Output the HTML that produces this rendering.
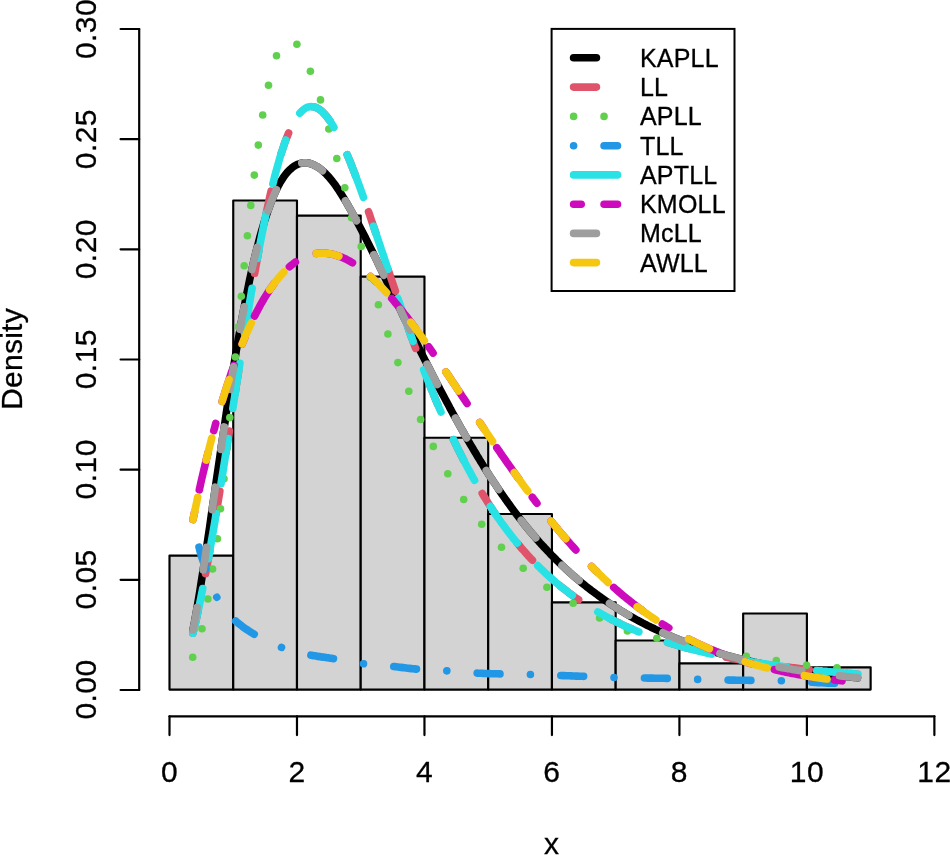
<!DOCTYPE html>
<html><head><meta charset="utf-8"><title>Density</title>
<style>
html,body{margin:0;padding:0;background:#fff;}
body{width:950px;height:855px;overflow:hidden;}
svg{display:block;will-change:transform;}
text{font-family:"Liberation Sans",sans-serif;fill:#000;stroke:#000;stroke-width:0.3px;}
.ax{font-size:30px;letter-spacing:0.45px;}
.lg{font-size:25px;letter-spacing:0.2px;}
</style></head><body>
<svg width="950" height="855" viewBox="0 0 950 855">
<rect x="0" y="0" width="950" height="855" fill="#ffffff"/>

<g fill="#D3D3D3" stroke="#000" stroke-width="2.15" stroke-linejoin="round">
<rect x="169.50" y="555.60" width="63.74" height="134.00"/>
<rect x="233.24" y="200.45" width="63.74" height="489.15"/>
<rect x="296.98" y="215.65" width="63.74" height="473.95"/>
<rect x="360.72" y="276.60" width="63.74" height="413.00"/>
<rect x="424.46" y="437.70" width="63.74" height="251.90"/>
<rect x="488.20" y="514.00" width="63.74" height="175.60"/>
<rect x="551.94" y="602.40" width="63.74" height="87.20"/>
<rect x="615.68" y="640.50" width="63.74" height="49.10"/>
<rect x="679.42" y="663.40" width="63.74" height="26.20"/>
<rect x="743.16" y="613.50" width="63.74" height="76.10"/>
<rect x="806.90" y="667.40" width="63.74" height="22.20"/>
</g>
<g stroke="#000" stroke-width="2.2" fill="none" stroke-linecap="round" stroke-linejoin="round">
<path d="M169.50 716.3 H934.38"/>
<path d="M169.50 716.3 V735.0999999999999"/>
<path d="M296.98 716.3 V735.0999999999999"/>
<path d="M424.46 716.3 V735.0999999999999"/>
<path d="M551.94 716.3 V735.0999999999999"/>
<path d="M679.42 716.3 V735.0999999999999"/>
<path d="M806.90 716.3 V735.0999999999999"/>
<path d="M934.38 716.3 V735.0999999999999"/>
<path d="M139.2 29.01 V690.00"/>
<path d="M139.2 690.00 H120.6"/>
<path d="M139.2 579.84 H120.6"/>
<path d="M139.2 469.67 H120.6"/>
<path d="M139.2 359.50 H120.6"/>
<path d="M139.2 249.34 H120.6"/>
<path d="M139.2 139.17 H120.6"/>
<path d="M139.2 29.01 H120.6"/>
</g>
<g class="ax" text-anchor="middle">
<text x="169.5" y="782">0</text>
<text x="297.0" y="782">2</text>
<text x="424.5" y="782">4</text>
<text x="551.9" y="782">6</text>
<text x="679.4" y="782">8</text>
<text x="806.9" y="782">10</text>
<text x="934.4" y="782">12</text>
<text transform="translate(95.6 689.5) rotate(-90)">0.00</text>
<text transform="translate(95.6 579.4) rotate(-90)">0.05</text>
<text transform="translate(95.6 469.3) rotate(-90)">0.10</text>
<text transform="translate(95.6 359.2) rotate(-90)">0.15</text>
<text transform="translate(95.6 249.2) rotate(-90)">0.20</text>
<text transform="translate(95.6 139.1) rotate(-90)">0.25</text>
<text transform="translate(95.6 29.0) rotate(-90)">0.30</text>
<text x="551.5" y="854" style="letter-spacing:0">x</text>
<text transform="translate(22 359.0) rotate(-90)" style="letter-spacing:0.25px">Density</text>
</g>
<g fill="none" stroke-width="7.61" stroke-linecap="round" stroke-linejoin="round">
<path d="M193.0 630.0 L194.7 621.1 L196.4 611.8 L198.0 602.1 L199.7 592.1 L201.3 581.7 L203.0 571.1 L204.7 560.3 L206.3 549.2 L208.0 538.0 L209.7 526.7 L211.3 515.3 L213.0 503.8 L214.7 492.3 L216.3 480.8 L218.0 469.3 L219.7 457.8 L221.3 446.5 L223.0 435.2 L224.7 424.1 L226.3 413.0 L228.0 402.2 L229.7 391.5 L231.3 380.9 L233.0 370.6 L234.7 360.5 L236.3 350.6 L238.0 340.9 L239.7 331.4 L241.3 322.2 L243.0 313.2 L244.7 304.5 L246.3 296.1 L248.0 287.9 L249.6 280.0 L251.3 272.3 L253.0 264.9 L254.6 257.8 L256.3 250.9 L258.0 244.4 L259.6 238.1 L261.3 232.0 L263.0 226.3 L264.6 220.8 L266.3 215.6 L268.0 210.6 L269.7 205.9 L271.3 201.5 L273.0 197.3 L274.7 193.4 L276.4 189.7 L278.1 186.3 L279.8 183.1 L281.6 180.2 L283.3 177.5 L285.0 175.1 L286.8 172.9 L288.5 171.0 L290.3 169.3 L292.0 167.8 L293.7 166.5 L295.3 165.5 L297.0 164.6 L298.6 164.0 L300.1 163.5 L301.7 163.1 L303.2 162.9 L304.7 162.8 L306.1 162.9 L307.6 163.0 L309.2 163.3 L310.7 163.7 L312.3 164.3 L313.9 165.0 L315.5 165.8 L317.2 166.7 L318.9 167.8 L320.6 169.0 L322.2 170.4 L323.9 171.9 L325.6 173.5 L327.3 175.3 L329.0 177.1 L330.6 179.1 L332.3 181.2 L333.9 183.3 L335.6 185.6 L337.2 188.0 L338.9 190.4 L340.5 192.9 L342.1 195.5 L343.8 198.2 L345.4 200.9 L347.1 203.7 L348.7 206.6 L350.4 209.5 L352.0 212.5 L353.7 215.5 L355.4 218.5 L357.0 221.6 L358.7 224.8 L360.4 228.0 L362.1 231.2 L363.8 234.5 L365.5 237.8 L367.1 241.1 L368.8 244.5 L370.5 247.9 L372.2 251.3 L373.9 254.7 L375.6 258.2 L377.3 261.6 L378.9 265.1 L380.6 268.6 L382.3 272.1 L384.0 275.7 L385.7 279.2 L387.4 282.7 L389.1 286.3 L390.8 289.9 L392.5 293.4 L394.2 297.0 L395.9 300.5 L397.6 304.1 L399.3 307.7 L401.0 311.2 L402.7 314.8 L404.4 318.3 L406.1 321.8 L407.8 325.4 L409.5 328.9 L411.3 332.4 L413.0 335.9 L414.7 339.4 L416.4 342.9 L418.1 346.3 L419.8 349.8 L421.5 353.2 L423.2 356.6 L424.9 360.0 L426.7 363.4 L428.4 366.8 L430.1 370.1 L431.8 373.5 L433.5 376.8 L435.2 380.1 L436.9 383.4 L438.6 386.6 L440.3 389.9 L442.0 393.1 L443.7 396.3 L445.4 399.5 L447.1 402.6 L448.8 405.8 L450.4 408.9 L452.1 412.0 L453.8 415.1 L455.5 418.1 L457.2 421.1 L458.8 424.2 L460.5 427.1 L462.2 430.1 L463.9 433.0 L465.5 436.0 L467.2 438.8 L468.8 441.7 L470.5 444.6 L472.2 447.4 L473.8 450.2 L475.5 452.9 L477.1 455.7 L478.8 458.4 L480.4 461.1 L482.1 463.8 L483.7 466.4 L485.4 469.1 L487.0 471.7 L488.7 474.3 L490.3 476.8 L492.0 479.3 L493.6 481.9 L495.3 484.3 L496.9 486.8 L498.5 489.2 L500.2 491.6 L501.8 494.0 L503.5 496.4 L505.1 498.7 L506.8 501.0 L508.4 503.3 L510.1 505.6 L511.7 507.9 L513.3 510.1 L515.0 512.3 L516.6 514.4 L518.3 516.6 L519.9 518.7 L521.6 520.8 L523.2 522.9 L524.9 525.0 L526.5 527.0 L528.2 529.0 L529.8 531.0 L531.5 533.0 L533.1 534.9 L534.8 536.8 L536.4 538.7 L538.1 540.6 L539.7 542.5 L541.4 544.3 L543.1 546.1 L544.7 547.9 L546.4 549.7 L548.0 551.4 L549.7 553.1 L551.3 554.9 L553.0 556.5 L554.7 558.2 L556.3 559.9 L558.0 561.5 L559.6 563.1 L561.3 564.7 L563.0 566.3 L564.6 567.8 L566.3 569.4 L568.0 570.9 L569.6 572.4 L571.3 573.9 L572.9 575.3 L574.6 576.8 L576.3 578.2 L577.9 579.6 L579.6 581.0 L581.2 582.4 L582.9 583.7 L584.6 585.1 L586.2 586.4 L587.9 587.7 L589.6 589.0 L591.2 590.3 L592.9 591.5 L594.6 592.8 L596.2 594.0 L597.9 595.2 L599.5 596.4 L601.2 597.6 L602.9 598.8 L604.5 600.0 L606.2 601.1 L607.9 602.2 L609.5 603.4 L611.2 604.5 L612.8 605.5 L614.5 606.6 L616.2 607.7 L617.8 608.7 L619.5 609.8 L621.1 610.8 L622.8 611.8 L624.5 612.8 L626.1 613.8 L627.8 614.8 L629.5 615.7 L631.1 616.7 L632.8 617.6 L634.4 618.5 L636.1 619.5 L637.8 620.4 L639.4 621.3 L641.1 622.1 L642.7 623.0 L644.4 623.9 L646.1 624.7 L647.7 625.6 L649.4 626.4 L651.0 627.2 L652.7 628.0 L654.4 628.8 L656.0 629.6 L657.7 630.4 L659.3 631.2 L661.0 631.9 L662.7 632.7 L664.3 633.4 L666.0 634.2 L667.6 634.9 L669.3 635.6 L671.0 636.3 L672.6 637.0 L674.3 637.7 L675.9 638.4 L677.6 639.0 L679.3 639.7 L680.9 640.4 L682.6 641.0 L684.3 641.6 L685.9 642.3 L687.6 642.9 L689.2 643.5 L690.9 644.1 L692.6 644.7 L694.2 645.3 L695.9 645.9 L697.5 646.5 L699.2 647.0 L700.9 647.6 L702.5 648.1 L704.2 648.7 L705.9 649.2 L707.5 649.8 L709.2 650.3 L710.9 650.8 L712.5 651.3 L714.2 651.8 L715.8 652.3 L717.5 652.8 L719.2 653.3 L720.8 653.8 L722.5 654.3 L724.2 654.7 L725.8 655.2 L727.5 655.7 L729.2 656.1 L730.8 656.5 L732.5 657.0 L734.2 657.4 L735.8 657.8 L737.5 658.3 L739.1 658.7 L740.8 659.1 L742.5 659.5 L744.1 659.9 L745.8 660.3 L747.5 660.7 L749.1 661.1 L750.8 661.4 L752.5 661.8 L754.1 662.2 L755.8 662.5 L757.5 662.9 L759.1 663.2 L760.8 663.6 L762.5 663.9 L764.1 664.3 L765.8 664.6 L767.5 664.9 L769.1 665.3 L770.8 665.6 L772.5 665.9 L774.1 666.2 L775.8 666.5 L777.5 666.8 L779.1 667.1 L780.8 667.4 L782.5 667.7 L784.1 668.0 L785.8 668.3 L787.5 668.6 L789.1 668.8 L790.8 669.1 L792.5 669.4 L794.1 669.7 L795.8 669.9 L797.5 670.2 L799.1 670.4 L800.8 670.7 L802.5 670.9 L804.1 671.2 L805.8 671.4 L807.5 671.7 L809.1 671.9 L810.8 672.1 L812.5 672.4 L814.1 672.6 L815.8 672.8 L817.5 673.1 L819.1 673.3 L820.8 673.5 L822.5 673.7 L824.1 673.9 L825.8 674.1 L827.5 674.3 L829.1 674.5 L830.8 674.8 L832.5 675.0 L834.1 675.2 L835.8 675.3 L837.5 675.5 L839.1 675.7 L840.8 675.9 L842.5 676.1 L844.1 676.3 L845.8 676.5 L847.5 676.7 L849.1 676.8 L850.8 677.0 L852.5 677.2 L854.1 677.4 L855.8 677.5 L857.5 677.7" stroke="#000000"/>
<path d="M193.0 633.2 L194.7 626.2 L196.4 619.0 L198.0 611.5 L199.7 603.6 L201.3 595.6 L203.0 587.2 L204.7 578.6 L206.3 569.8 L208.0 560.7 L209.7 551.4 L211.3 541.9 L213.0 532.3 L214.7 522.5 L216.3 512.5 L218.0 502.4 L219.7 492.1 L221.3 481.7 L223.0 471.3 L224.7 460.7 L226.3 450.1 L228.0 439.4 L229.7 428.7 L231.3 418.0 L233.0 407.2 L234.7 396.5 L236.3 385.8 L238.0 375.1 L239.7 364.4 L241.3 353.9 L243.0 343.4 L244.7 333.0 L246.3 322.7 L248.0 312.6 L249.6 302.6 L251.3 292.7 L253.0 283.0 L254.6 273.5 L256.3 264.2 L258.0 255.0 L259.6 246.1 L261.3 237.4 L263.0 228.9 L264.6 220.7 L266.3 212.7 L268.0 205.0 L269.6 197.5 L271.3 190.3 L273.0 183.4 L274.6 176.8 L276.3 170.5 L278.0 164.4 L279.6 158.7 L281.3 153.2 L283.0 148.1 L284.6 143.2 L286.3 138.7 L288.0 134.5 L289.6 130.5 L291.3 126.9 L293.0 123.6 L294.6 120.6 L296.3 117.9 L297.9 115.5 L299.6 113.4 L301.3 111.6 L302.9 110.0 L304.6 108.8 L306.3 107.8 L307.9 107.1 L309.6 106.7 L311.3 106.6 L312.9 106.7 L314.6 107.0 L316.3 107.6 L317.9 108.5 L319.6 109.5 L321.3 110.8 L322.9 112.3 L324.6 114.1 L326.3 116.0 L327.9 118.1 L329.6 120.4 L331.3 122.9 L332.9 125.6 L334.6 128.5 L336.3 131.5 L337.9 134.6 L339.6 137.9 L341.3 141.4 L342.9 144.9 L344.6 148.6 L346.3 152.5 L347.9 156.4 L349.6 160.4 L351.2 164.5 L352.9 168.8 L354.6 173.1 L356.2 177.5 L357.9 181.9 L359.6 186.5 L361.2 191.0 L362.9 195.7 L364.6 200.4 L366.2 205.1 L367.9 209.9 L369.6 214.8 L371.2 219.6 L372.9 224.5 L374.6 229.4 L376.2 234.3 L377.9 239.3 L379.6 244.2 L381.2 249.2 L382.9 254.1 L384.6 259.1 L386.2 264.1 L387.9 269.0 L389.6 274.0 L391.2 278.9 L392.9 283.8 L394.6 288.7 L396.2 293.6 L397.9 298.5 L399.5 303.3 L401.2 308.1 L402.9 312.9 L404.5 317.7 L406.2 322.4 L407.9 327.1 L409.5 331.7 L411.2 336.4 L412.9 341.0 L414.5 345.5 L416.2 350.0 L417.9 354.5 L419.5 358.9 L421.2 363.3 L422.9 367.7 L424.5 372.0 L426.2 376.2 L427.9 380.5 L429.5 384.6 L431.2 388.8 L432.9 392.9 L434.5 396.9 L436.2 400.9 L437.9 404.9 L439.5 408.8 L441.2 412.6 L442.9 416.4 L444.5 420.2 L446.2 423.9 L447.8 427.6 L449.5 431.2 L451.2 434.8 L452.8 438.3 L454.5 441.8 L456.2 445.3 L457.8 448.7 L459.5 452.0 L461.2 455.3 L462.8 458.6 L464.5 461.8 L466.2 465.0 L467.8 468.1 L469.5 471.2 L471.2 474.3 L472.8 477.3 L474.5 480.2 L476.2 483.2 L477.8 486.0 L479.5 488.9 L481.2 491.7 L482.8 494.4 L484.5 497.1 L486.2 499.8 L487.8 502.5 L489.5 505.1 L491.2 507.6 L492.8 510.1 L494.5 512.6 L496.1 515.1 L497.8 517.5 L499.5 519.9 L501.1 522.2 L502.8 524.5 L504.5 526.8 L506.1 529.0 L507.8 531.2 L509.5 533.4 L511.1 535.5 L512.8 537.7 L514.5 539.7 L516.1 541.8 L517.8 543.8 L519.5 545.8 L521.1 547.7 L522.8 549.7 L524.5 551.5 L526.1 553.4 L527.8 555.3 L529.5 557.1 L531.1 558.8 L532.8 560.6 L534.5 562.3 L536.1 564.0 L537.8 565.7 L539.5 567.4 L541.1 569.0 L542.8 570.6 L544.5 572.2 L546.1 573.7 L547.8 575.3 L549.4 576.8 L551.1 578.2 L552.8 579.7 L554.4 581.1 L556.1 582.6 L557.8 584.0 L559.4 585.3 L561.1 586.7 L562.8 588.0 L564.4 589.3 L566.1 590.6 L567.8 591.9 L569.4 593.2 L571.1 594.4 L572.8 595.6 L574.4 596.8 L576.1 598.0 L577.8 599.2 L579.4 600.3 L581.1 601.5 L582.8 602.6 L584.4 603.7 L586.1 604.7 L587.8 605.8 L589.4 606.9 L591.1 607.9 L592.8 608.9 L594.4 609.9 L596.1 610.9 L597.7 611.9 L599.4 612.8 L601.1 613.8 L602.7 614.7 L604.4 615.6 L606.1 616.5 L607.7 617.4 L609.4 618.3 L611.1 619.2 L612.7 620.0 L614.4 620.9 L616.1 621.7 L617.7 622.5 L619.4 623.3 L621.1 624.1 L622.7 624.9 L624.4 625.7 L626.1 626.4 L627.7 627.2 L629.4 627.9 L631.1 628.6 L632.7 629.4 L634.4 630.1 L636.1 630.8 L637.7 631.5 L639.4 632.1 L641.1 632.8 L642.7 633.5 L644.4 634.1 L646.0 634.8 L647.7 635.4 L649.4 636.0 L651.0 636.6 L652.7 637.2 L654.4 637.8 L656.0 638.4 L657.7 639.0 L659.4 639.6 L661.0 640.1 L662.7 640.7 L664.4 641.2 L666.0 641.8 L667.7 642.3 L669.4 642.9 L671.0 643.4 L672.7 643.9 L674.4 644.4 L676.0 644.9 L677.7 645.4 L679.4 645.9 L681.0 646.4 L682.7 646.8 L684.4 647.3 L686.0 647.8 L687.7 648.2 L689.4 648.7 L691.0 649.1 L692.7 649.5 L694.3 650.0 L696.0 650.4 L697.7 650.8 L699.3 651.2 L701.0 651.6 L702.7 652.0 L704.3 652.4 L706.0 652.8 L707.7 653.2 L709.3 653.6 L711.0 654.0 L712.7 654.4 L714.3 654.7 L716.0 655.1 L717.7 655.4 L719.3 655.8 L721.0 656.1 L722.7 656.5 L724.3 656.8 L726.0 657.2 L727.7 657.5 L729.3 657.8 L731.0 658.2 L732.7 658.5 L734.3 658.8 L736.0 659.1 L737.7 659.4 L739.3 659.7 L741.0 660.0 L742.7 660.3 L744.3 660.6 L746.0 660.9 L747.6 661.2 L749.3 661.5 L751.0 661.7 L752.6 662.0 L754.3 662.3 L756.0 662.6 L757.6 662.8 L759.3 663.1 L761.0 663.3 L762.6 663.6 L764.3 663.9 L766.0 664.1 L767.6 664.4 L769.3 664.6 L771.0 664.8 L772.6 665.1 L774.3 665.3 L776.0 665.5 L777.6 665.8 L779.3 666.0 L781.0 666.2 L782.6 666.4 L784.3 666.7 L786.0 666.9 L787.6 667.1 L789.3 667.3 L791.0 667.5 L792.6 667.7 L794.3 667.9 L795.9 668.1 L797.6 668.3 L799.3 668.5 L800.9 668.7 L802.6 668.9 L804.3 669.1 L805.9 669.3 L807.6 669.5 L809.3 669.7 L810.9 669.8 L812.6 670.0 L814.3 670.2 L815.9 670.4 L817.6 670.6 L819.3 670.7 L820.9 670.9 L822.6 671.1 L824.3 671.2 L825.9 671.4 L827.6 671.6 L829.3 671.7 L830.9 671.9 L832.6 672.0 L834.3 672.2 L835.9 672.3 L837.6 672.5 L839.3 672.6 L840.9 672.8 L842.6 672.9 L844.2 673.1 L845.9 673.2 L847.6 673.4 L849.2 673.5 L850.9 673.6 L852.6 673.8 L854.2 673.9 L855.9 674.1 L857.6 674.2" stroke="#DF536B" stroke-dasharray="22.830000000000002 38.050000000000004"/>
</g><g fill="#61D04F"><circle cx="192.7" cy="657.2" r="3.8"/><circle cx="202.0" cy="628.7" r="3.8"/><circle cx="207.9" cy="599.0" r="3.8"/><circle cx="212.6" cy="569.0" r="3.8"/><circle cx="217.4" cy="538.7" r="3.8"/><circle cx="220.5" cy="508.7" r="3.8"/><circle cx="224.0" cy="478.7" r="3.8"/><circle cx="227.0" cy="448.5" r="3.8"/><circle cx="229.8" cy="417.6" r="3.8"/><circle cx="232.5" cy="387.3" r="3.8"/><circle cx="235.4" cy="357.0" r="3.8"/><circle cx="238.3" cy="326.8" r="3.8"/><circle cx="241.3" cy="296.3" r="3.8"/><circle cx="244.2" cy="265.8" r="3.8"/><circle cx="247.4" cy="235.7" r="3.8"/><circle cx="250.8" cy="205.4" r="3.8"/><circle cx="254.3" cy="175.1" r="3.8"/><circle cx="258.3" cy="145.1" r="3.8"/><circle cx="262.7" cy="115.0" r="3.8"/><circle cx="268.5" cy="85.3" r="3.8"/><circle cx="276.5" cy="55.8" r="3.8"/><circle cx="296.9" cy="44.2" r="3.8"/><circle cx="310.4" cy="71.2" r="3.8"/><circle cx="320.5" cy="99.9" r="3.8"/><circle cx="328.8" cy="129.0" r="3.8"/><circle cx="336.8" cy="158.5" r="3.8"/><circle cx="344.8" cy="187.8" r="3.8"/><circle cx="351.6" cy="217.7" r="3.8"/><circle cx="361.2" cy="246.5" r="3.8"/><circle cx="370.2" cy="277.2" r="3.8"/><circle cx="378.4" cy="304.8" r="3.8"/><circle cx="387.9" cy="334.0" r="3.8"/><circle cx="397.9" cy="362.6" r="3.8"/><circle cx="408.8" cy="391.3" r="3.8"/><circle cx="420.6" cy="419.5" r="3.8"/><circle cx="433.3" cy="446.4" r="3.8"/><circle cx="447.8" cy="473.8" r="3.8"/><circle cx="463.7" cy="499.5" r="3.8"/><circle cx="481.7" cy="524.3" r="3.8"/><circle cx="501.5" cy="547.3" r="3.8"/><circle cx="523.2" cy="568.3" r="3.8"/><circle cx="546.9" cy="587.3" r="3.8"/><circle cx="573.1" cy="603.3" r="3.8"/><circle cx="599.6" cy="618.0" r="3.8"/><circle cx="627.4" cy="631.0" r="3.8"/><circle cx="656.8" cy="638.2" r="3.8"/><circle cx="686.0" cy="646.0" r="3.8"/><circle cx="716.0" cy="651.5" r="3.8"/><circle cx="746.3" cy="656.4" r="3.8"/><circle cx="776.3" cy="660.6" r="3.8"/><circle cx="806.6" cy="665.3" r="3.8"/><circle cx="837.0" cy="667.7" r="3.8"/></g><g fill="none" stroke-width="7.61" stroke-linecap="round" stroke-linejoin="round">
<path d="M193.0 519.0 L194.7 527.8 L196.3 535.8 L198.0 543.0 L199.7 549.7 L201.3 555.8 L203.0 560.9 L204.7 565.2 L206.3 569.6 L208.0 574.3 L209.7 579.2 L211.3 584.0 L213.0 588.6 L214.7 592.7 L216.3 596.3 L218.0 599.4 L219.7 602.2 L221.3 604.7 L223.0 607.1 L224.6 609.3 L226.3 611.3 L228.0 613.2 L229.6 615.1 L231.3 616.8 L233.0 618.4 L234.6 620.0 L236.3 621.5 L238.0 623.0 L239.6 624.3 L241.3 625.6 L243.0 626.9 L244.6 628.1 L246.3 629.2 L248.0 630.3 L249.6 631.4 L251.3 632.5 L253.0 633.5 L254.6 634.5 L256.3 635.5 L258.0 636.5 L259.6 637.4 L261.3 638.4 L263.0 639.3 L264.6 640.1 L266.3 641.0 L268.0 641.8 L269.6 642.6 L271.3 643.4 L273.0 644.1 L274.6 644.8 L276.3 645.5 L277.9 646.1 L279.6 646.8 L281.3 647.4 L282.9 647.9 L284.6 648.5 L286.3 649.0 L287.9 649.5 L289.6 650.0 L291.3 650.5 L292.9 651.0 L294.6 651.5 L296.3 651.9 L297.9 652.3 L299.6 652.7 L301.3 653.1 L302.9 653.5 L304.6 653.9 L306.3 654.2 L307.9 654.6 L309.6 654.9 L311.3 655.2 L312.9 655.6 L314.6 655.8 L316.3 656.1 L317.9 656.4 L319.6 656.6 L321.3 656.9 L322.9 657.1 L324.6 657.3 L326.3 657.6 L327.9 657.8 L329.6 658.1 L331.3 658.3 L332.9 658.6 L334.6 658.8 L336.2 659.1 L337.9 659.4 L339.6 659.7 L341.2 660.1 L342.9 660.4 L344.6 660.7 L346.2 661.0 L347.9 661.3 L349.6 661.6 L351.2 661.9 L352.9 662.2 L354.6 662.5 L356.2 662.8 L357.9 663.0 L359.6 663.3 L361.2 663.5 L362.9 663.7 L364.6 663.9 L366.2 664.1 L367.9 664.3 L369.6 664.4 L371.2 664.6 L372.9 664.8 L374.6 664.9 L376.2 665.0 L377.9 665.2 L379.6 665.3 L381.2 665.4 L382.9 665.6 L384.6 665.7 L386.2 665.9 L387.9 666.0 L389.5 666.2 L391.2 666.3 L392.9 666.5 L394.5 666.6 L396.2 666.8 L397.9 667.0 L399.5 667.2 L401.2 667.4 L402.9 667.6 L404.5 667.8 L406.2 668.0 L407.9 668.2 L409.5 668.4 L411.2 668.6 L412.9 668.8 L414.5 668.9 L416.2 669.1 L417.9 669.2 L419.5 669.3 L421.2 669.4 L422.9 669.5 L424.5 669.6 L426.2 669.7 L427.9 669.8 L429.5 669.9 L431.2 670.0 L432.9 670.0 L434.5 670.1 L436.2 670.2 L437.9 670.3 L439.5 670.4 L441.2 670.5 L442.8 670.6 L444.5 670.7 L446.2 670.8 L447.8 670.9 L449.5 671.0 L451.2 671.1 L452.8 671.2 L454.5 671.4 L456.2 671.5 L457.8 671.6 L459.5 671.8 L461.2 671.9 L462.8 672.1 L464.5 672.2 L466.2 672.3 L467.8 672.5 L469.5 672.6 L471.2 672.7 L472.8 672.8 L474.5 673.0 L476.2 673.1 L477.8 673.2 L479.5 673.3 L481.2 673.3 L482.8 673.4 L484.5 673.5 L486.2 673.5 L487.8 673.6 L489.5 673.6 L491.2 673.7 L492.8 673.7 L494.5 673.8 L496.2 673.8 L497.8 673.8 L499.5 673.9 L501.1 673.9 L502.8 673.9 L504.5 674.0 L506.1 674.0 L507.8 674.0 L509.5 674.1 L511.1 674.1 L512.8 674.1 L514.5 674.1 L516.1 674.2 L517.8 674.2 L519.5 674.2 L521.1 674.3 L522.8 674.3 L524.5 674.3 L526.1 674.4 L527.8 674.4 L529.5 674.5 L531.1 674.5 L532.8 674.5 L534.5 674.6 L536.1 674.6 L537.8 674.7 L539.5 674.7 L541.1 674.8 L542.8 674.9 L544.5 674.9 L546.1 675.0 L547.8 675.0 L549.5 675.1 L551.1 675.1 L552.8 675.2 L554.4 675.3 L556.1 675.3 L557.8 675.4 L559.4 675.5 L561.1 675.5 L562.8 675.6 L564.4 675.6 L566.1 675.7 L567.8 675.8 L569.4 675.8 L571.1 675.9 L572.8 676.0 L574.4 676.0 L576.1 676.1 L577.8 676.1 L579.4 676.2 L581.1 676.3 L582.8 676.3 L584.4 676.4 L586.1 676.4 L587.8 676.5 L589.4 676.6 L591.1 676.6 L592.8 676.7 L594.4 676.8 L596.1 676.8 L597.8 676.9 L599.4 677.0 L601.1 677.1 L602.8 677.1 L604.4 677.2 L606.1 677.2 L607.8 677.3 L609.4 677.4 L611.1 677.4 L612.7 677.5 L614.4 677.5 L616.1 677.6 L617.7 677.6 L619.4 677.6 L621.1 677.7 L622.7 677.7 L624.4 677.7 L626.1 677.8 L627.7 677.8 L629.4 677.8 L631.1 677.8 L632.7 677.9 L634.4 677.9 L636.1 677.9 L637.7 677.9 L639.4 677.9 L641.1 678.0 L642.7 678.0 L644.4 678.0 L646.1 678.0 L647.7 678.1 L649.4 678.1 L651.1 678.1 L652.7 678.1 L654.4 678.2 L656.1 678.2 L657.7 678.2 L659.4 678.2 L661.1 678.3 L662.7 678.3 L664.4 678.3 L666.0 678.4 L667.7 678.4 L669.4 678.4 L671.0 678.5 L672.7 678.5 L674.4 678.5 L676.0 678.6 L677.7 678.7 L679.4 678.7 L681.0 678.8 L682.7 678.9 L684.4 678.9 L686.0 679.0 L687.7 679.1 L689.4 679.1 L691.0 679.2 L692.7 679.3 L694.4 679.3 L696.0 679.4 L697.7 679.4 L699.4 679.4 L701.0 679.5 L702.7 679.5 L704.4 679.6 L706.0 679.6 L707.7 679.6 L709.4 679.7 L711.0 679.7 L712.7 679.7 L714.4 679.8 L716.0 679.8 L717.7 679.8 L719.3 679.9 L721.0 679.9 L722.7 679.9 L724.3 680.0 L726.0 680.0 L727.7 680.0 L729.3 680.1 L731.0 680.1 L732.7 680.1 L734.3 680.1 L736.0 680.2 L737.7 680.2 L739.3 680.2 L741.0 680.2 L742.7 680.3 L744.3 680.3 L746.0 680.3 L747.7 680.3 L749.3 680.4 L751.0 680.4 L752.7 680.4 L754.3 680.4 L756.0 680.5 L757.7 680.5 L759.3 680.5 L761.0 680.5 L762.7 680.5 L764.3 680.6 L766.0 680.6 L767.7 680.6 L769.3 680.6 L771.0 680.6 L772.7 680.7 L774.3 680.7 L776.0 680.7 L777.6 680.7 L779.3 680.8 L781.0 680.8 L782.6 680.8 L784.3 680.9 L786.0 680.9 L787.6 681.0 L789.3 681.0 L791.0 681.1 L792.6 681.2 L794.3 681.3 L796.0 681.4 L797.6 681.4 L799.3 681.5 L801.0 681.6 L802.6 681.7 L804.3 681.8 L806.0 681.9 L807.6 682.0 L809.3 682.1 L811.0 682.2 L812.6 682.3 L814.3 682.4 L816.0 682.5 L817.6 682.6 L819.3 682.7 L821.0 682.8 L822.6 682.8 L824.3 682.9 L826.0 683.0 L827.6 683.1 L829.3 683.1 L830.9 683.2 L832.6 683.3 L834.3 683.3 L835.9 683.4 L837.6 683.5 L839.3 683.5 L840.9 683.6 L842.6 683.6 L844.3 683.7 L845.9 683.7 L847.6 683.7 L849.3 683.8 L850.9 683.8 L852.6 683.9 L854.3 683.9 L855.9 684.0 L857.6 684.0" stroke="#2297E6" stroke-dasharray="0.01 30.43 22.830000000000002 30.44" stroke-dashoffset="1.7"/>
<path d="M193.0 633.2 L194.7 626.2 L196.4 619.0 L198.0 611.5 L199.7 603.6 L201.3 595.6 L203.0 587.2 L204.7 578.6 L206.3 569.8 L208.0 560.7 L209.7 551.4 L211.3 541.9 L213.0 532.3 L214.7 522.5 L216.3 512.5 L218.0 502.4 L219.7 492.1 L221.3 481.7 L223.0 471.3 L224.7 460.7 L226.3 450.1 L228.0 439.4 L229.7 428.7 L231.3 418.0 L233.0 407.2 L234.7 396.5 L236.3 385.8 L238.0 375.1 L239.7 364.4 L241.3 353.9 L243.0 343.4 L244.7 333.0 L246.3 322.7 L248.0 312.6 L249.6 302.6 L251.3 292.7 L253.0 283.0 L254.6 273.5 L256.3 264.2 L258.0 255.0 L259.6 246.1 L261.3 237.4 L263.0 228.9 L264.6 220.7 L266.3 212.7 L268.0 205.0 L269.6 197.5 L271.3 190.3 L273.0 183.4 L274.6 176.8 L276.3 170.5 L278.0 164.4 L279.6 158.7 L281.3 153.2 L283.0 148.1 L284.6 143.2 L286.3 138.7 L288.0 134.5 L289.6 130.5 L291.3 126.9 L293.0 123.6 L294.6 120.6 L296.3 117.9 L297.9 115.5 L299.6 113.4 L301.3 111.6 L302.9 110.0 L304.6 108.8 L306.3 107.8 L307.9 107.1 L309.6 106.7 L311.3 106.6 L312.9 106.7 L314.6 107.0 L316.3 107.6 L317.9 108.5 L319.6 109.5 L321.3 110.8 L322.9 112.3 L324.6 114.1 L326.3 116.0 L327.9 118.1 L329.6 120.4 L331.3 122.9 L332.9 125.6 L334.6 128.5 L336.3 131.5 L337.9 134.6 L339.6 137.9 L341.3 141.4 L342.9 144.9 L344.6 148.6 L346.3 152.5 L347.9 156.4 L349.6 160.4 L351.2 164.5 L352.9 168.8 L354.6 173.1 L356.2 177.5 L357.9 181.9 L359.6 186.5 L361.2 191.0 L362.9 195.7 L364.6 200.4 L366.2 205.1 L367.9 209.9 L369.6 214.8 L371.2 219.6 L372.9 224.5 L374.6 229.4 L376.2 234.3 L377.9 239.3 L379.6 244.2 L381.2 249.2 L382.9 254.1 L384.6 259.1 L386.2 264.1 L387.9 269.0 L389.6 274.0 L391.2 278.9 L392.9 283.8 L394.6 288.7 L396.2 293.6 L397.9 298.5 L399.5 303.3 L401.2 308.1 L402.9 312.9 L404.5 317.7 L406.2 322.4 L407.9 327.1 L409.5 331.7 L411.2 336.4 L412.9 341.0 L414.5 345.5 L416.2 350.0 L417.9 354.5 L419.5 358.9 L421.2 363.3 L422.9 367.7 L424.5 372.0 L426.2 376.2 L427.9 380.5 L429.5 384.6 L431.2 388.8 L432.9 392.9 L434.5 396.9 L436.2 400.9 L437.9 404.9 L439.5 408.8 L441.2 412.6 L442.9 416.4 L444.5 420.2 L446.2 423.9 L447.8 427.6 L449.5 431.2 L451.2 434.8 L452.8 438.3 L454.5 441.8 L456.2 445.3 L457.8 448.7 L459.5 452.0 L461.2 455.3 L462.8 458.6 L464.5 461.8 L466.2 465.0 L467.8 468.1 L469.5 471.2 L471.2 474.3 L472.8 477.3 L474.5 480.2 L476.2 483.2 L477.8 486.0 L479.5 488.9 L481.2 491.7 L482.8 494.4 L484.5 497.1 L486.2 499.8 L487.8 502.5 L489.5 505.1 L491.2 507.6 L492.8 510.1 L494.5 512.6 L496.1 515.1 L497.8 517.5 L499.5 519.9 L501.1 522.2 L502.8 524.5 L504.5 526.8 L506.1 529.0 L507.8 531.2 L509.5 533.4 L511.1 535.5 L512.8 537.7 L514.5 539.7 L516.1 541.8 L517.8 543.8 L519.5 545.8 L521.1 547.7 L522.8 549.7 L524.5 551.5 L526.1 553.4 L527.8 555.3 L529.5 557.1 L531.1 558.8 L532.8 560.6 L534.5 562.3 L536.1 564.0 L537.8 565.7 L539.5 567.4 L541.1 569.0 L542.8 570.6 L544.5 572.2 L546.1 573.7 L547.8 575.3 L549.4 576.8 L551.1 578.2 L552.8 579.7 L554.4 581.1 L556.1 582.6 L557.8 584.0 L559.4 585.3 L561.1 586.7 L562.8 588.0 L564.4 589.3 L566.1 590.6 L567.8 591.9 L569.4 593.2 L571.1 594.4 L572.8 595.6 L574.4 596.8 L576.1 598.0 L577.8 599.2 L579.4 600.3 L581.1 601.5 L582.8 602.6 L584.4 603.7 L586.1 604.7 L587.8 605.8 L589.4 606.9 L591.1 607.9 L592.8 608.9 L594.4 609.9 L596.1 610.9 L597.7 611.9 L599.4 612.8 L601.1 613.8 L602.7 614.7 L604.4 615.6 L606.1 616.5 L607.7 617.4 L609.4 618.3 L611.1 619.2 L612.7 620.0 L614.4 620.9 L616.1 621.7 L617.7 622.5 L619.4 623.3 L621.1 624.1 L622.7 624.9 L624.4 625.7 L626.1 626.4 L627.7 627.2 L629.4 627.9 L631.1 628.6 L632.7 629.4 L634.4 630.1 L636.1 630.8 L637.7 631.5 L639.4 632.1 L641.1 632.8 L642.7 633.5 L644.4 634.1 L646.0 634.8 L647.7 635.4 L649.4 636.0 L651.0 636.6 L652.7 637.2 L654.4 637.8 L656.0 638.4 L657.7 639.0 L659.4 639.6 L661.0 640.1 L662.7 640.7 L664.4 641.2 L666.0 641.8 L667.7 642.3 L669.4 642.9 L671.0 643.4 L672.7 643.9 L674.4 644.4 L676.0 644.9 L677.7 645.4 L679.4 645.9 L681.0 646.4 L682.7 646.8 L684.4 647.3 L686.0 647.8 L687.7 648.2 L689.4 648.7 L691.0 649.1 L692.7 649.5 L694.3 650.0 L696.0 650.4 L697.7 650.8 L699.3 651.2 L701.0 651.6 L702.7 652.0 L704.3 652.4 L706.0 652.8 L707.7 653.2 L709.3 653.6 L711.0 654.0 L712.7 654.4 L714.3 654.7 L716.0 655.1 L717.7 655.4 L719.3 655.8 L721.0 656.1 L722.7 656.5 L724.3 656.8 L726.0 657.2 L727.7 657.5 L729.3 657.8 L731.0 658.2 L732.7 658.5 L734.3 658.8 L736.0 659.1 L737.7 659.4 L739.3 659.7 L741.0 660.0 L742.7 660.3 L744.3 660.6 L746.0 660.9 L747.6 661.2 L749.3 661.5 L751.0 661.7 L752.6 662.0 L754.3 662.3 L756.0 662.6 L757.6 662.8 L759.3 663.1 L761.0 663.3 L762.6 663.6 L764.3 663.9 L766.0 664.1 L767.6 664.4 L769.3 664.6 L771.0 664.8 L772.6 665.1 L774.3 665.3 L776.0 665.5 L777.6 665.8 L779.3 666.0 L781.0 666.2 L782.6 666.4 L784.3 666.7 L786.0 666.9 L787.6 667.1 L789.3 667.3 L791.0 667.5 L792.6 667.7 L794.3 667.9 L795.9 668.1 L797.6 668.3 L799.3 668.5 L800.9 668.7 L802.6 668.9 L804.3 669.1 L805.9 669.3 L807.6 669.5 L809.3 669.7 L810.9 669.8 L812.6 670.0 L814.3 670.2 L815.9 670.4 L817.6 670.6 L819.3 670.7 L820.9 670.9 L822.6 671.1 L824.3 671.2 L825.9 671.4 L827.6 671.6 L829.3 671.7 L830.9 671.9 L832.6 672.0 L834.3 672.2 L835.9 672.3 L837.6 672.5 L839.3 672.6 L840.9 672.8 L842.6 672.9 L844.2 673.1 L845.9 673.2 L847.6 673.4 L849.2 673.5 L850.9 673.6 L852.6 673.8 L854.2 673.9 L855.9 674.1 L857.6 674.2" stroke="#28E2E5" stroke-dasharray="45.660000000000004 30.44"/>
<path d="M193.0 519.6 L194.7 511.4 L196.4 503.5 L198.0 495.7 L199.7 488.1 L201.3 480.7 L203.0 473.5 L204.7 466.5 L206.3 459.6 L208.0 452.9 L209.7 446.3 L211.3 439.8 L213.0 433.5 L214.7 427.4 L216.3 421.4 L218.0 415.5 L219.7 409.7 L221.3 404.1 L223.0 398.6 L224.7 393.2 L226.3 388.0 L228.0 382.9 L229.7 377.8 L231.3 372.9 L233.0 368.2 L234.7 363.5 L236.3 359.0 L238.0 354.5 L239.7 350.2 L241.3 346.0 L243.0 341.9 L244.7 337.8 L246.3 333.9 L248.0 330.1 L249.6 326.5 L251.3 322.9 L253.0 319.4 L254.6 316.0 L256.3 312.7 L258.0 309.5 L259.6 306.4 L261.3 303.4 L263.0 300.5 L264.6 297.7 L266.3 295.0 L268.0 292.4 L269.6 289.9 L271.3 287.5 L273.0 285.1 L274.6 282.9 L276.3 280.7 L278.0 278.7 L279.6 276.7 L281.3 274.8 L283.0 273.0 L284.6 271.3 L286.3 269.6 L288.0 268.1 L289.6 266.6 L291.3 265.2 L293.0 263.9 L294.6 262.6 L296.3 261.5 L297.9 260.4 L299.6 259.4 L301.3 258.5 L302.9 257.7 L304.6 256.9 L306.3 256.2 L307.9 255.6 L309.6 255.0 L311.3 254.5 L312.9 254.1 L314.6 253.8 L316.3 253.5 L317.9 253.3 L319.6 253.2 L321.3 253.1 L322.9 253.1 L324.6 253.2 L326.3 253.3 L327.9 253.5 L329.6 253.7 L331.3 254.0 L332.9 254.4 L334.6 254.8 L336.3 255.3 L337.9 255.8 L339.6 256.4 L341.3 257.1 L342.9 257.8 L344.6 258.5 L346.3 259.3 L347.9 260.2 L349.6 261.1 L351.2 262.1 L352.9 263.1 L354.6 264.2 L356.2 265.3 L357.9 266.4 L359.6 267.6 L361.2 268.9 L362.9 270.1 L364.6 271.5 L366.2 272.8 L367.9 274.3 L369.6 275.7 L371.2 277.2 L372.9 278.7 L374.6 280.3 L376.2 281.9 L377.9 283.6 L379.6 285.2 L381.2 287.0 L382.9 288.7 L384.6 290.5 L386.2 292.3 L387.9 294.1 L389.6 296.0 L391.2 297.9 L392.9 299.8 L394.6 301.8 L396.2 303.8 L397.9 305.8 L399.5 307.8 L401.2 309.9 L402.9 312.0 L404.5 314.1 L406.2 316.2 L407.9 318.4 L409.5 320.5 L411.2 322.7 L412.9 324.9 L414.5 327.2 L416.2 329.4 L417.9 331.7 L419.5 334.0 L421.2 336.3 L422.9 338.6 L424.5 340.9 L426.2 343.3 L427.9 345.6 L429.5 348.0 L431.2 350.4 L432.9 352.8 L434.5 355.2 L436.2 357.6 L437.9 360.0 L439.5 362.5 L441.2 364.9 L442.9 367.4 L444.5 369.8 L446.2 372.3 L447.8 374.7 L449.5 377.2 L451.2 379.7 L452.8 382.2 L454.5 384.7 L456.2 387.2 L457.8 389.7 L459.5 392.2 L461.2 394.7 L462.8 397.2 L464.5 399.7 L466.2 402.2 L467.8 404.7 L469.5 407.2 L471.2 409.7 L472.8 412.2 L474.5 414.6 L476.2 417.1 L477.8 419.6 L479.5 422.1 L481.2 424.6 L482.8 427.1 L484.5 429.5 L486.2 432.0 L487.8 434.5 L489.5 436.9 L491.2 439.4 L492.8 441.8 L494.5 444.3 L496.1 446.7 L497.8 449.1 L499.5 451.5 L501.1 454.0 L502.8 456.4 L504.5 458.7 L506.1 461.1 L507.8 463.5 L509.5 465.9 L511.1 468.2 L512.8 470.6 L514.5 472.9 L516.1 475.2 L517.8 477.5 L519.5 479.8 L521.1 482.1 L522.8 484.4 L524.5 486.7 L526.1 488.9 L527.8 491.2 L529.5 493.4 L531.1 495.6 L532.8 497.8 L534.5 500.0 L536.1 502.2 L537.8 504.4 L539.5 506.5 L541.1 508.7 L542.8 510.8 L544.5 512.9 L546.1 515.0 L547.8 517.1 L549.4 519.2 L551.1 521.2 L552.8 523.2 L554.4 525.3 L556.1 527.3 L557.8 529.3 L559.4 531.3 L561.1 533.2 L562.8 535.2 L564.4 537.1 L566.1 539.0 L567.8 541.0 L569.4 542.8 L571.1 544.7 L572.8 546.6 L574.4 548.4 L576.1 550.3 L577.8 552.1 L579.4 553.9 L581.1 555.7 L582.8 557.4 L584.4 559.2 L586.1 560.9 L587.8 562.6 L589.4 564.3 L591.1 566.0 L592.8 567.7 L594.4 569.4 L596.1 571.0 L597.7 572.6 L599.4 574.2 L601.1 575.8 L602.7 577.4 L604.4 579.0 L606.1 580.5 L607.7 582.1 L609.4 583.6 L611.1 585.1 L612.7 586.6 L614.4 588.0 L616.1 589.5 L617.7 590.9 L619.4 592.4 L621.1 593.8 L622.7 595.2 L624.4 596.6 L626.1 597.9 L627.7 599.3 L629.4 600.6 L631.1 601.9 L632.7 603.2 L634.4 604.5 L636.1 605.8 L637.7 607.1 L639.4 608.3 L641.1 609.5 L642.7 610.8 L644.4 612.0 L646.0 613.1 L647.7 614.3 L649.4 615.5 L651.0 616.6 L652.7 617.8 L654.4 618.9 L656.0 620.0 L657.7 621.1 L659.4 622.2 L661.0 623.2 L662.7 624.3 L664.4 625.3 L666.0 626.3 L667.7 627.3 L669.4 628.3 L671.0 629.3 L672.7 630.3 L674.4 631.3 L676.0 632.2 L677.7 633.2 L679.4 634.1 L681.0 635.0 L682.7 635.9 L684.4 636.8 L686.0 637.6 L687.7 638.5 L689.4 639.4 L691.0 640.2 L692.7 641.0 L694.3 641.8 L696.0 642.7 L697.7 643.4 L699.3 644.2 L701.0 645.0 L702.7 645.8 L704.3 646.5 L706.0 647.3 L707.7 648.0 L709.3 648.7 L711.0 649.4 L712.7 650.1 L714.3 650.8 L716.0 651.5 L717.7 652.1 L719.3 652.8 L721.0 653.4 L722.7 654.1 L724.3 654.7 L726.0 655.3 L727.7 655.9 L729.3 656.5 L731.0 657.1 L732.7 657.7 L734.3 658.3 L736.0 658.9 L737.7 659.4 L739.3 660.0 L741.0 660.5 L742.7 661.0 L744.3 661.5 L746.0 662.1 L747.6 662.6 L749.3 663.1 L751.0 663.6 L752.6 664.0 L754.3 664.5 L756.0 665.0 L757.6 665.4 L759.3 665.9 L761.0 666.3 L762.6 666.8 L764.3 667.2 L766.0 667.6 L767.6 668.0 L769.3 668.4 L771.0 668.8 L772.6 669.2 L774.3 669.6 L776.0 670.0 L777.6 670.4 L779.3 670.8 L781.0 671.1 L782.6 671.5 L784.3 671.8 L786.0 672.2 L787.6 672.5 L789.3 672.8 L791.0 673.2 L792.6 673.5 L794.3 673.8 L795.9 674.1 L797.6 674.4 L799.3 674.7 L800.9 675.0 L802.6 675.3 L804.3 675.6 L805.9 675.9 L807.6 676.1 L809.3 676.4 L810.9 676.7 L812.6 676.9 L814.3 677.2 L815.9 677.4 L817.6 677.7 L819.3 677.9 L820.9 678.2 L822.6 678.4 L824.3 678.6 L825.9 678.9 L827.6 679.1 L829.3 679.3 L830.9 679.5 L832.6 679.7 L834.3 679.9 L835.9 680.1 L837.6 680.3 L839.3 680.5 L840.9 680.7 L842.6 680.9 L844.2 681.1 L845.9 681.2 L847.6 681.4 L849.2 681.6 L850.9 681.8 L852.6 681.9 L854.2 682.1 L855.9 682.2 L857.6 682.4" stroke="#CD0BBC" stroke-dasharray="7.61 22.830000000000002 38.050000000000004 22.830000000000002"/>
<path d="M193.0 630.0 L194.7 621.1 L196.4 611.8 L198.0 602.1 L199.7 592.1 L201.3 581.7 L203.0 571.1 L204.7 560.3 L206.3 549.2 L208.0 538.0 L209.7 526.7 L211.3 515.3 L213.0 503.8 L214.7 492.3 L216.3 480.8 L218.0 469.3 L219.7 457.8 L221.3 446.5 L223.0 435.2 L224.7 424.1 L226.3 413.0 L228.0 402.2 L229.7 391.5 L231.3 380.9 L233.0 370.6 L234.7 360.5 L236.3 350.6 L238.0 340.9 L239.7 331.4 L241.3 322.2 L243.0 313.2 L244.7 304.5 L246.3 296.1 L248.0 287.9 L249.6 280.0 L251.3 272.3 L253.0 264.9 L254.6 257.8 L256.3 250.9 L258.0 244.4 L259.6 238.1 L261.3 232.0 L263.0 226.3 L264.6 220.8 L266.3 215.6 L268.0 210.6 L269.7 205.9 L271.3 201.5 L273.0 197.3 L274.7 193.4 L276.4 189.7 L278.1 186.3 L279.8 183.1 L281.6 180.2 L283.3 177.5 L285.0 175.1 L286.8 172.9 L288.5 171.0 L290.3 169.3 L292.0 167.8 L293.7 166.5 L295.3 165.5 L297.0 164.6 L298.6 164.0 L300.1 163.5 L301.7 163.1 L303.2 162.9 L304.7 162.8 L306.1 162.9 L307.6 163.0 L309.2 163.3 L310.7 163.7 L312.3 164.3 L313.9 165.0 L315.5 165.8 L317.2 166.7 L318.9 167.8 L320.6 169.0 L322.2 170.4 L323.9 171.9 L325.6 173.5 L327.3 175.3 L329.0 177.1 L330.6 179.1 L332.3 181.2 L333.9 183.3 L335.6 185.6 L337.2 188.0 L338.9 190.4 L340.5 192.9 L342.1 195.5 L343.8 198.2 L345.4 200.9 L347.1 203.7 L348.7 206.6 L350.4 209.5 L352.0 212.5 L353.7 215.5 L355.4 218.5 L357.0 221.6 L358.7 224.8 L360.4 228.0 L362.1 231.2 L363.8 234.5 L365.5 237.8 L367.1 241.1 L368.8 244.5 L370.5 247.9 L372.2 251.3 L373.9 254.7 L375.6 258.2 L377.3 261.6 L378.9 265.1 L380.6 268.6 L382.3 272.1 L384.0 275.7 L385.7 279.2 L387.4 282.7 L389.1 286.3 L390.8 289.9 L392.5 293.4 L394.2 297.0 L395.9 300.5 L397.6 304.1 L399.3 307.7 L401.0 311.2 L402.7 314.8 L404.4 318.3 L406.1 321.8 L407.8 325.4 L409.5 328.9 L411.3 332.4 L413.0 335.9 L414.7 339.4 L416.4 342.9 L418.1 346.3 L419.8 349.8 L421.5 353.2 L423.2 356.6 L424.9 360.0 L426.7 363.4 L428.4 366.8 L430.1 370.1 L431.8 373.5 L433.5 376.8 L435.2 380.1 L436.9 383.4 L438.6 386.6 L440.3 389.9 L442.0 393.1 L443.7 396.3 L445.4 399.5 L447.1 402.6 L448.8 405.8 L450.4 408.9 L452.1 412.0 L453.8 415.1 L455.5 418.1 L457.2 421.1 L458.8 424.2 L460.5 427.1 L462.2 430.1 L463.9 433.0 L465.5 436.0 L467.2 438.8 L468.8 441.7 L470.5 444.6 L472.2 447.4 L473.8 450.2 L475.5 452.9 L477.1 455.7 L478.8 458.4 L480.4 461.1 L482.1 463.8 L483.7 466.4 L485.4 469.1 L487.0 471.7 L488.7 474.3 L490.3 476.8 L492.0 479.3 L493.6 481.9 L495.3 484.3 L496.9 486.8 L498.5 489.2 L500.2 491.6 L501.8 494.0 L503.5 496.4 L505.1 498.7 L506.8 501.0 L508.4 503.3 L510.1 505.6 L511.7 507.9 L513.3 510.1 L515.0 512.3 L516.6 514.4 L518.3 516.6 L519.9 518.7 L521.6 520.8 L523.2 522.9 L524.9 525.0 L526.5 527.0 L528.2 529.0 L529.8 531.0 L531.5 533.0 L533.1 534.9 L534.8 536.8 L536.4 538.7 L538.1 540.6 L539.7 542.5 L541.4 544.3 L543.1 546.1 L544.7 547.9 L546.4 549.7 L548.0 551.4 L549.7 553.1 L551.3 554.9 L553.0 556.5 L554.7 558.2 L556.3 559.9 L558.0 561.5 L559.6 563.1 L561.3 564.7 L563.0 566.3 L564.6 567.8 L566.3 569.4 L568.0 570.9 L569.6 572.4 L571.3 573.9 L572.9 575.3 L574.6 576.8 L576.3 578.2 L577.9 579.6 L579.6 581.0 L581.2 582.4 L582.9 583.7 L584.6 585.1 L586.2 586.4 L587.9 587.7 L589.6 589.0 L591.2 590.3 L592.9 591.5 L594.6 592.8 L596.2 594.0 L597.9 595.2 L599.5 596.4 L601.2 597.6 L602.9 598.8 L604.5 600.0 L606.2 601.1 L607.9 602.2 L609.5 603.4 L611.2 604.5 L612.8 605.5 L614.5 606.6 L616.2 607.7 L617.8 608.7 L619.5 609.8 L621.1 610.8 L622.8 611.8 L624.5 612.8 L626.1 613.8 L627.8 614.8 L629.5 615.7 L631.1 616.7 L632.8 617.6 L634.4 618.5 L636.1 619.5 L637.8 620.4 L639.4 621.3 L641.1 622.1 L642.7 623.0 L644.4 623.9 L646.1 624.7 L647.7 625.6 L649.4 626.4 L651.0 627.2 L652.7 628.0 L654.4 628.8 L656.0 629.6 L657.7 630.4 L659.3 631.2 L661.0 631.9 L662.7 632.7 L664.3 633.4 L666.0 634.2 L667.6 634.9 L669.3 635.6 L671.0 636.3 L672.6 637.0 L674.3 637.7 L675.9 638.4 L677.6 639.0 L679.3 639.7 L680.9 640.4 L682.6 641.0 L684.3 641.6 L685.9 642.3 L687.6 642.9 L689.2 643.5 L690.9 644.1 L692.6 644.7 L694.2 645.3 L695.9 645.9 L697.5 646.5 L699.2 647.0 L700.9 647.6 L702.5 648.1 L704.2 648.7 L705.9 649.2 L707.5 649.8 L709.2 650.3 L710.9 650.8 L712.5 651.3 L714.2 651.8 L715.8 652.3 L717.5 652.8 L719.2 653.3 L720.8 653.8 L722.5 654.3 L724.2 654.7 L725.8 655.2 L727.5 655.7 L729.2 656.1 L730.8 656.5 L732.5 657.0 L734.2 657.4 L735.8 657.8 L737.5 658.3 L739.1 658.7 L740.8 659.1 L742.5 659.5 L744.1 659.9 L745.8 660.3 L747.5 660.7 L749.1 661.1 L750.8 661.4 L752.5 661.8 L754.1 662.2 L755.8 662.5 L757.5 662.9 L759.1 663.2 L760.8 663.6 L762.5 663.9 L764.1 664.3 L765.8 664.6 L767.5 664.9 L769.1 665.3 L770.8 665.6 L772.5 665.9 L774.1 666.2 L775.8 666.5 L777.5 666.8 L779.1 667.1 L780.8 667.4 L782.5 667.7 L784.1 668.0 L785.8 668.3 L787.5 668.6 L789.1 668.8 L790.8 669.1 L792.5 669.4 L794.1 669.7 L795.8 669.9 L797.5 670.2 L799.1 670.4 L800.8 670.7 L802.5 670.9 L804.1 671.2 L805.8 671.4 L807.5 671.7 L809.1 671.9 L810.8 672.1 L812.5 672.4 L814.1 672.6 L815.8 672.8 L817.5 673.1 L819.1 673.3 L820.8 673.5 L822.5 673.7 L824.1 673.9 L825.8 674.1 L827.5 674.3 L829.1 674.5 L830.8 674.8 L832.5 675.0 L834.1 675.2 L835.8 675.3 L837.5 675.5 L839.1 675.7 L840.8 675.9 L842.5 676.1 L844.1 676.3 L845.8 676.5 L847.5 676.7 L849.1 676.8 L850.8 677.0 L852.5 677.2 L854.1 677.4 L855.8 677.5 L857.5 677.7" stroke="#9E9E9E" stroke-dasharray="22.830000000000002 38.050000000000004"/>
<path d="M193.0 519.6 L194.7 511.4 L196.4 503.5 L198.0 495.7 L199.7 488.1 L201.3 480.7 L203.0 473.5 L204.7 466.5 L206.3 459.6 L208.0 452.9 L209.7 446.3 L211.3 439.8 L213.0 433.5 L214.7 427.4 L216.3 421.4 L218.0 415.5 L219.7 409.7 L221.3 404.1 L223.0 398.6 L224.7 393.2 L226.3 388.0 L228.0 382.9 L229.7 377.8 L231.3 372.9 L233.0 368.2 L234.7 363.5 L236.3 359.0 L238.0 354.5 L239.7 350.2 L241.3 346.0 L243.0 341.9 L244.7 337.8 L246.3 333.9 L248.0 330.1 L249.6 326.5 L251.3 322.9 L253.0 319.4 L254.6 316.0 L256.3 312.7 L258.0 309.5 L259.6 306.4 L261.3 303.4 L263.0 300.5 L264.6 297.7 L266.3 295.0 L268.0 292.4 L269.6 289.9 L271.3 287.5 L273.0 285.1 L274.6 282.9 L276.3 280.7 L278.0 278.7 L279.6 276.7 L281.3 274.8 L283.0 273.0 L284.6 271.3 L286.3 269.6 L288.0 268.1 L289.6 266.6 L291.3 265.2 L293.0 263.9 L294.6 262.6 L296.3 261.5 L297.9 260.4 L299.6 259.4 L301.3 258.5 L302.9 257.7 L304.6 256.9 L306.3 256.2 L307.9 255.6 L309.6 255.0 L311.3 254.5 L312.9 254.1 L314.6 253.8 L316.3 253.5 L317.9 253.3 L319.6 253.2 L321.3 253.1 L322.9 253.1 L324.6 253.2 L326.3 253.3 L327.9 253.5 L329.6 253.7 L331.3 254.0 L332.9 254.4 L334.6 254.8 L336.3 255.3 L337.9 255.8 L339.6 256.4 L341.3 257.1 L342.9 257.8 L344.6 258.5 L346.3 259.3 L347.9 260.2 L349.6 261.1 L351.2 262.1 L352.9 263.1 L354.6 264.2 L356.2 265.3 L357.9 266.4 L359.6 267.6 L361.2 268.9 L362.9 270.1 L364.6 271.5 L366.2 272.8 L367.9 274.3 L369.6 275.7 L371.2 277.2 L372.9 278.7 L374.6 280.3 L376.2 281.9 L377.9 283.6 L379.6 285.2 L381.2 287.0 L382.9 288.7 L384.6 290.5 L386.2 292.3 L387.9 294.1 L389.6 296.0 L391.2 297.9 L392.9 299.8 L394.6 301.8 L396.2 303.8 L397.9 305.8 L399.5 307.8 L401.2 309.9 L402.9 312.0 L404.5 314.1 L406.2 316.2 L407.9 318.4 L409.5 320.5 L411.2 322.7 L412.9 324.9 L414.5 327.2 L416.2 329.4 L417.9 331.7 L419.5 334.0 L421.2 336.3 L422.9 338.6 L424.5 340.9 L426.2 343.3 L427.9 345.6 L429.5 348.0 L431.2 350.4 L432.9 352.8 L434.5 355.2 L436.2 357.6 L437.9 360.0 L439.5 362.5 L441.2 364.9 L442.9 367.4 L444.5 369.8 L446.2 372.3 L447.8 374.7 L449.5 377.2 L451.2 379.7 L452.8 382.2 L454.5 384.7 L456.2 387.2 L457.8 389.7 L459.5 392.2 L461.2 394.7 L462.8 397.2 L464.5 399.7 L466.2 402.2 L467.8 404.7 L469.5 407.2 L471.2 409.7 L472.8 412.2 L474.5 414.6 L476.2 417.1 L477.8 419.6 L479.5 422.1 L481.2 424.6 L482.8 427.1 L484.5 429.5 L486.2 432.0 L487.8 434.5 L489.5 436.9 L491.2 439.4 L492.8 441.8 L494.5 444.3 L496.1 446.7 L497.8 449.1 L499.5 451.5 L501.1 454.0 L502.8 456.4 L504.5 458.7 L506.1 461.1 L507.8 463.5 L509.5 465.9 L511.1 468.2 L512.8 470.6 L514.5 472.9 L516.1 475.2 L517.8 477.5 L519.5 479.8 L521.1 482.1 L522.8 484.4 L524.5 486.7 L526.1 488.9 L527.8 491.2 L529.5 493.4 L531.1 495.6 L532.8 497.8 L534.5 500.0 L536.1 502.2 L537.8 504.4 L539.5 506.5 L541.1 508.7 L542.8 510.8 L544.5 512.9 L546.1 515.0 L547.8 517.1 L549.4 519.2 L551.1 521.2 L552.8 523.2 L554.4 525.3 L556.1 527.3 L557.8 529.3 L559.4 531.3 L561.1 533.2 L562.8 535.2 L564.4 537.1 L566.1 539.0 L567.8 541.0 L569.4 542.8 L571.1 544.7 L572.8 546.6 L574.4 548.4 L576.1 550.3 L577.8 552.1 L579.4 553.9 L581.1 555.7 L582.8 557.4 L584.4 559.2 L586.1 560.9 L587.8 562.6 L589.4 564.3 L591.1 566.0 L592.8 567.7 L594.4 569.4 L596.1 571.0 L597.7 572.6 L599.4 574.2 L601.1 575.8 L602.7 577.4 L604.4 579.0 L606.1 580.5 L607.7 582.1 L609.4 583.6 L611.1 585.1 L612.7 586.6 L614.4 588.0 L616.1 589.5 L617.7 590.9 L619.4 592.4 L621.1 593.8 L622.7 595.2 L624.4 596.6 L626.1 597.9 L627.7 599.3 L629.4 600.6 L631.1 601.9 L632.7 603.2 L634.4 604.5 L636.1 605.8 L637.7 607.1 L639.4 608.3 L641.1 609.5 L642.7 610.8 L644.4 612.0 L646.0 613.1 L647.7 614.3 L649.4 615.5 L651.0 616.6 L652.7 617.8 L654.4 618.9 L656.0 620.0 L657.7 621.1 L659.4 622.2 L661.0 623.2 L662.7 624.3 L664.4 625.3 L666.0 626.3 L667.7 627.3 L669.4 628.3 L671.0 629.3 L672.7 630.3 L674.4 631.3 L676.0 632.2 L677.7 633.2 L679.4 634.1 L681.0 635.0 L682.7 635.9 L684.4 636.8 L686.0 637.6 L687.7 638.5 L689.4 639.4 L691.0 640.2 L692.7 641.0 L694.3 641.8 L696.0 642.7 L697.7 643.4 L699.3 644.2 L701.0 645.0 L702.7 645.8 L704.3 646.5 L706.0 647.3 L707.7 648.0 L709.3 648.7 L711.0 649.4 L712.7 650.1 L714.3 650.8 L716.0 651.5 L717.7 652.1 L719.3 652.8 L721.0 653.4 L722.7 654.1 L724.3 654.7 L726.0 655.3 L727.7 655.9 L729.3 656.5 L731.0 657.1 L732.7 657.7 L734.3 658.3 L736.0 658.9 L737.7 659.4 L739.3 660.0 L741.0 660.5 L742.7 661.0 L744.3 661.5 L746.0 662.1 L747.6 662.6 L749.3 663.1 L751.0 663.6 L752.6 664.0 L754.3 664.5 L756.0 665.0 L757.6 665.4 L759.3 665.9 L761.0 666.3 L762.6 666.8 L764.3 667.2 L766.0 667.6 L767.6 668.0 L769.3 668.4 L771.0 668.8 L772.6 669.2 L774.3 669.6 L776.0 670.0 L777.6 670.4 L779.3 670.8 L781.0 671.1 L782.6 671.5 L784.3 671.8 L786.0 672.2 L787.6 672.5 L789.3 672.8 L791.0 673.2 L792.6 673.5 L794.3 673.8 L795.9 674.1 L797.6 674.4 L799.3 674.7 L800.9 675.0 L802.6 675.3 L804.3 675.6 L805.9 675.9 L807.6 676.1 L809.3 676.4 L810.9 676.7 L812.6 676.9 L814.3 677.2 L815.9 677.4 L817.6 677.7 L819.3 677.9 L820.9 678.2 L822.6 678.4 L824.3 678.6 L825.9 678.9 L827.6 679.1 L829.3 679.3 L830.9 679.5 L832.6 679.7 L834.3 679.9 L835.9 680.1 L837.6 680.3 L839.3 680.5 L840.9 680.7 L842.6 680.9 L844.2 681.1 L845.9 681.2 L847.6 681.4 L849.2 681.6 L850.9 681.8 L852.6 681.9 L854.2 682.1 L855.9 682.2 L857.6 682.4" stroke="#F5C710" stroke-dasharray="22.830000000000002 38.050000000000004"/>
</g>
<rect x="551.6" y="28.9" width="182.9" height="262.1" fill="#fff" stroke="#000" stroke-width="2"/>
<g fill="none" stroke-width="7.61" stroke-linecap="round">
<path d="M573.6 57.8 H617.5" stroke="#000000" stroke-dasharray="22.830000000000002 38.050000000000004"/>
<path d="M573.6 87.1 H617.5" stroke="#DF536B" stroke-dasharray="22.830000000000002 38.050000000000004"/>
<path d="M573.6 116.4 H617.5" stroke="#61D04F" stroke-dasharray="0.01 30.43"/>
<path d="M573.6 145.7 H617.5" stroke="#2297E6" stroke-dasharray="0.01 30.43 22.830000000000002 30.44"/>
<path d="M573.6 174.9 H617.5" stroke="#28E2E5"/>
<path d="M573.6 204.2 H617.5" stroke="#CD0BBC" stroke-dasharray="7.61 22.830000000000002 38.050000000000004 22.830000000000002"/>
<path d="M573.6 233.4 H617.5" stroke="#9E9E9E" stroke-dasharray="22.830000000000002 38.050000000000004"/>
<path d="M573.6 262.6 H617.5" stroke="#F5C710" stroke-dasharray="22.830000000000002 38.050000000000004"/>
</g>
<g class="lg">
<text x="640" y="66.7">KAPLL</text>
<text x="640" y="96.0">LL</text>
<text x="640" y="125.3">APLL</text>
<text x="640" y="154.6">TLL</text>
<text x="640" y="183.8">APTLL</text>
<text x="640" y="213.1">KMOLL</text>
<text x="640" y="242.3">McLL</text>
<text x="640" y="271.5">AWLL</text>
</g>
</svg></body></html>
